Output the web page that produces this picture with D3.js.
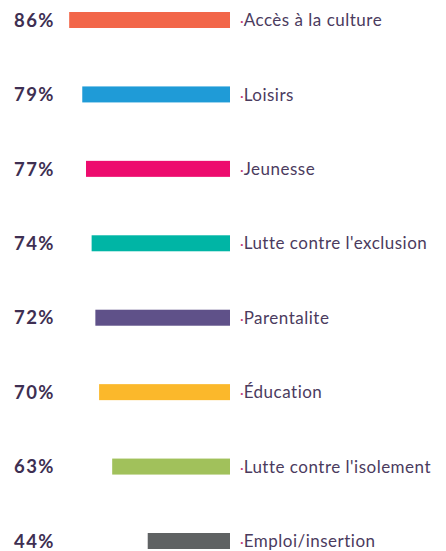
<!DOCTYPE html>
<html><head><meta charset="utf-8">
<script src="https://cdn.jsdelivr.net/npm/d3@7"></script>
<style>
html,body{margin:0;padding:0;background:#fff;}
svg{display:block;}
</style></head>
<body><div id="chart"></div>
<script>
const categories = ["Accès à la culture","Loisirs","Jeunesse","Lutte contre l'exclusion","Parentalite","Éducation","Lutte contre l'isolement","Emploi/insertion"];
const values = [86,79,77,74,72,70,63,44];
const colors = ["#f26649","#1f9bd7","#ed0c6e","#00b5a5","#5f5189","#fbb82b","#a1c15b","#5f6263"];

const W = 446, H = 551;
const svg = d3.select("#chart").append("svg").attr("width", W).attr("height", H);

const barRight = 230;
const x = d3.scaleLinear().domain([0, 100]).range([0, 187]);
const y = d3.scalePoint().domain(categories).range([20, 541]);
const barH = 16;

const g = svg.append("g");
const rows = g.selectAll("g.row").data(categories).enter().append("g").attr("class","row");

rows.append("rect")
  .attr("x", (d,i) => barRight - x(values[i]))
  .attr("y", d => y(d) - barH/2)
  .attr("width", (d,i) => x(values[i]))
  .attr("height", barH)
  .attr("fill", (d,i) => colors[i]);

rows.append("text")
  .attr("x", 14)
  .attr("y", d => y(d))
  .attr("dy", "0.36em")
  .attr("font-family", "Lato, sans-serif")
  .attr("font-weight", 700)
  .attr("font-size", 18.5)
  .attr("letter-spacing", 1.4)
  .attr("fill", "#3e2f52")
  .text((d,i) => values[i] + "%");

const lab = rows.append("text")
  .attr("x", 240)
  .attr("y", d => y(d))
  .attr("dy", "0.36em")
  .attr("font-family", "Lato, sans-serif")
  .attr("font-size", 17)
  .attr("letter-spacing", 0.5)
  .attr("fill", "#4b3b5e");
lab.append("tspan").attr("fill", "#c2407a").attr("font-size", 14).attr("letter-spacing", 0).text("·");
lab.append("tspan").text(d => d);
</script></body></html>
